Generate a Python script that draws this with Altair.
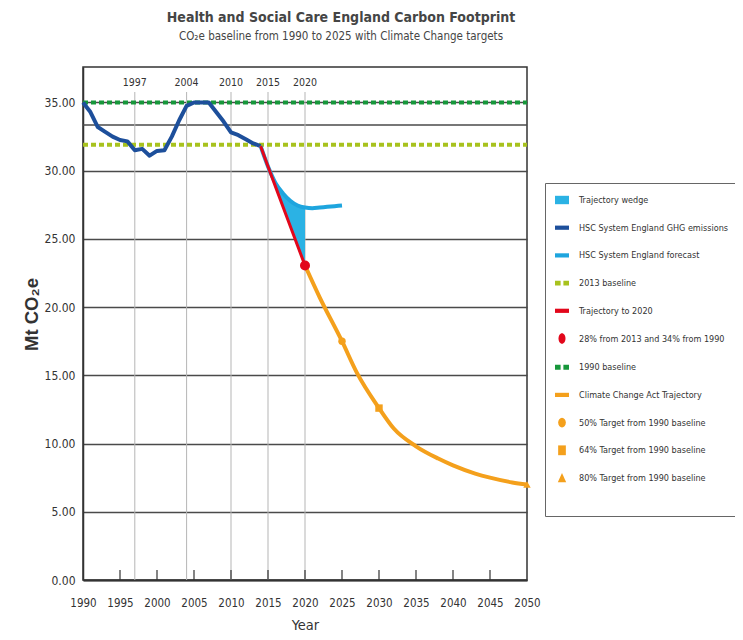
import altair as alt
import pandas as pd

FONT = "'Liberation Sans Narrow', 'DejaVu Sans Condensed', 'Roboto Condensed', 'Liberation Sans', sans-serif"

# ---------------- data ----------------
ghg_years = list(range(1990, 2015))
ghg_values = [35.0, 34.3, 33.2, 32.85, 32.5, 32.25, 32.15, 31.5, 31.6, 31.1,
              31.45, 31.5, 32.5, 33.7, 34.75, 35.0, 35.0, 35.0, 34.3, 33.6,
              32.8, 32.6, 32.3, 32.0, 31.8]

forecast_years = list(range(2014, 2026))
forecast_values = [31.8, 30.3, 29.1, 28.35, 27.8, 27.45, 27.3, 27.25, 27.3,
                   27.35, 27.4, 27.45]

trajectory_years = list(range(2014, 2021))
trajectory_values = [31.8, 30.3, 28.85, 27.4, 25.95, 24.5, 23.05]

cca_years = [2020, 2022, 2025, 2027, 2030, 2032, 2035, 2038, 2040, 2043, 2045, 2048, 2050]
cca_values = [23.05, 20.7, 17.5, 15.2, 12.6, 11.1, 9.8, 8.9, 8.4, 7.8, 7.5, 7.15, 7.0]

baseline_1990 = 35.0
baseline_2013 = 31.9
baseline_years = [1990, 2050]

milestone_years = [2020]
milestone_values = [23.05]

target_years = [2025, 2030, 2050]
target_values = [17.5, 12.6, 7.0]
target_shapes = ["circle", "square", "triangle-up"]

marker_years = [1997, 2004, 2010, 2015, 2020]
x_label_years = list(range(1990, 2051, 5))
x_tick_years = list(range(1995, 2050, 5))
y_ticks = [0, 5, 10, 15, 20, 25, 30, 35]
extra_grid = [33.35]

legend_labels = [
    "Trajectory wedge",
    "HSC System England GHG emissions",
    "HSC System England forecast",
    "2013 baseline",
    "Trajectory to 2020",
    "28% from 2013 and 34% from 1990",
    "1990 baseline",
    "Climate Change Act Trajectory",
    "50% Target from 1990 baseline",
    "64% Target from 1990 baseline",
    "80% Target from 1990 baseline",
]

# ---------------- styles ----------------
C_DARK = "#1d4f9b"
C_LIGHT = "#1ea5de"
C_WEDGE = "#2bb2e4"
C_RED = "#e2071b"
C_ORANGE = "#f4a01c"
C_GREEN = "#17973b"
C_LIME = "#a8c21e"
C_GRID = "#4a4a4a"
C_VGRID = "#b5b5b5"
C_TEXT = "#333333"

BAR = "M-1,-0.3H1V0.3H-1Z"
RECT = "M-1,-0.6H1V0.6H-1Z"
DOTS = "M-1,-0.35H-0.2V0.35H-1Z M0.2,-0.35H1V0.35H0.2Z"
ELLIPSE = "M0,-0.75 A0.5,0.75 0 1 1 0,0.75 A0.5,0.75 0 1 1 0,-0.75 Z"
BLOB = "M0,-0.7 A0.55,0.7 0 1 1 0,0.7 A0.55,0.7 0 1 1 0,-0.7 Z"
SQR = "M-0.55,-0.7H0.55V0.7H-0.55Z"
TRI = "M0,-0.7L0.6,0.6H-0.6Z"

legend_colors = [C_WEDGE, C_DARK, C_LIGHT, C_LIME, C_RED, C_RED, C_GREEN,
                 C_ORANGE, C_ORANGE, C_ORANGE, C_ORANGE]
legend_shapes = [RECT, BAR, BAR, DOTS, BAR, ELLIPSE, DOTS, BAR, BLOB, SQR, TRI]

W, H = 444, 513

# ---------------- tables ----------------
ghg = pd.DataFrame({"year": ghg_years, "value": ghg_values})
fc = pd.DataFrame({"year": forecast_years, "value": forecast_values})
traj = pd.DataFrame({"year": trajectory_years, "value": trajectory_values})
wedge = pd.DataFrame({"year": trajectory_years,
                      "value": forecast_values[:len(trajectory_years)],
                      "lower": trajectory_values})
cca = pd.DataFrame({"year": cca_years, "value": cca_values})
b90 = pd.DataFrame({"year": baseline_years, "value": [baseline_1990] * 2})
b13 = pd.DataFrame({"year": baseline_years, "value": [baseline_2013] * 2})
mil = pd.DataFrame({"year": milestone_years, "value": milestone_values})
mk = pd.DataFrame({"year": marker_years, "label": [str(y) for y in marker_years]})
tk = pd.DataFrame({"year": x_tick_years})
eg = pd.DataFrame({"value": extra_grid})
lg = pd.DataFrame({"series": legend_labels})

xscale = alt.Scale(domain=[1990, 2050], nice=False, zero=False)
yscale = alt.Scale(domain=[0, 37.6], nice=False, zero=True)

xaxis = alt.Axis(values=x_label_years, format="d", title="Year", grid=False,
                 ticks=False, domainColor="#333", domainWidth=2,
                 labelFont=FONT, labelFontSize=11.5, labelColor=C_TEXT,
                 labelPadding=17, labelFlush=False, labelOverlap=False,
                 titleFont=FONT, titleFontSize=14.5,
                 titleFontWeight="normal", titleColor=C_TEXT, titlePadding=10)
yaxis = alt.Axis(values=y_ticks, format=".2f", title="Mt CO₂e", grid=True,
                 gridColor=C_GRID, gridWidth=1.3, ticks=False,
                 domainColor="#333", domainWidth=1.5,
                 labelFont=FONT, labelFontSize=12, labelColor=C_TEXT,
                 labelPadding=8, labelOverlap=False, labelFlush=False,
                 titleFont="Liberation Sans", titleFontSize=18.5,
                 titleFontWeight="bold", titleColor=C_TEXT, titlePadding=3,
                 titleY=247)

X = alt.X("year:Q", scale=xscale, axis=xaxis)
Y = alt.Y("value:Q", scale=yscale, axis=yaxis)

hgrid = alt.Chart(eg).mark_rule(color=C_GRID, strokeWidth=1.3).encode(y=Y)

vgrid = alt.Chart(mk).mark_rule(color=C_VGRID, strokeWidth=1).encode(
    x=X, y=alt.value(25), y2=alt.value(H))

vlabels = alt.Chart(mk).mark_text(font=FONT, fontSize=10.5, color=C_TEXT,
                                  baseline="middle").encode(
    x=X, y=alt.value(16), text="label:N")

ticks = alt.Chart(tk).mark_rule(color="#333", strokeWidth=1.2).encode(
    x=X, y=alt.value(H), y2=alt.value(H - 10))

line90 = alt.Chart(b90).mark_line(color=C_GREEN, strokeWidth=4,
                                  strokeDash=[5, 3]).encode(x=X, y=Y)
line13 = alt.Chart(b13).mark_line(color=C_LIME, strokeWidth=4,
                                  strokeDash=[5, 3]).encode(x=X, y=Y)

wedge_area = alt.Chart(wedge).mark_area(color=C_WEDGE, opacity=1,
                                        interpolate="monotone").encode(
    x=X, y=Y, y2="lower:Q")

ghg_line = alt.Chart(ghg).mark_line(color=C_DARK, strokeWidth=4,
                                    strokeJoin="round").encode(x=X, y=Y)
fc_line = alt.Chart(fc).mark_line(color=C_LIGHT, strokeWidth=4,
                                  interpolate="monotone").encode(x=X, y=Y)
traj_line = alt.Chart(traj).mark_line(color=C_RED, strokeWidth=3).encode(x=X, y=Y)
cca_line = alt.Chart(cca).mark_line(color=C_ORANGE, strokeWidth=4,
                                    interpolate="monotone").encode(x=X, y=Y)

target_layers = []
for ty, tv, ts in zip(target_years, target_values, target_shapes):
    tdf = pd.DataFrame({"year": [ty], "value": [tv]})
    target_layers.append(
        alt.Chart(tdf).mark_point(filled=True, color=C_ORANGE, size=55,
                                  opacity=1, shape=ts).encode(x=X, y=Y))

milestone = alt.Chart(mil).mark_point(filled=True, color=C_RED, size=100,
                                      opacity=1).encode(x=X, y=Y)

leg = alt.Legend(orient="none", legendX=462, legendY=116, title=" ",
                 titleOrient="bottom", titleFontSize=10, titlePadding=13,
                 padding=10, strokeColor="#666", fillColor="white",
                 rowPadding=15.7, symbolSize=196, symbolStrokeWidth=0,
                 symbolOpacity=1, labelFont=FONT, labelFontSize=9,
                 labelColor=C_TEXT, labelOffset=10, labelLimit=220)

legend_layer = alt.Chart(lg).mark_point(filled=True, size=196, opacity=0).encode(
    x=alt.value(W / 2),
    y=alt.value(H / 2),
    color=alt.Color("series:N", sort=legend_labels,
                    scale=alt.Scale(domain=legend_labels, range=legend_colors), legend=leg),
    shape=alt.Shape("series:N", sort=legend_labels,
                    scale=alt.Scale(domain=legend_labels, range=legend_shapes), legend=leg),
)

chart = alt.layer(
    hgrid, vgrid, ticks, vlabels, line13, line90, wedge_area,
    ghg_line, fc_line, traj_line, cca_line, *target_layers, milestone, legend_layer,
).properties(
    width=W, height=H,
    background="white",
    title=alt.TitleParams(
        text="Health and Social Care England Carbon Footprint",
        subtitle="CO₂e baseline from 1990 to 2025 with Climate Change targets",
        font=FONT, fontSize=14, fontWeight="bold", color="#454545",
        subtitleFont=FONT, subtitleFontSize=11.5, subtitleColor="#454545",
        subtitlePadding=6, anchor="middle", dx=36, offset=25),
    autosize=alt.AutoSizeParams(type="none"),
    padding={"left": 75, "top": 59, "right": 208, "bottom": 52},
).configure_view(stroke="#333", strokeWidth=1.5)

chart.save("out.html", embed_options={"renderer": "svg", "actions": False})
